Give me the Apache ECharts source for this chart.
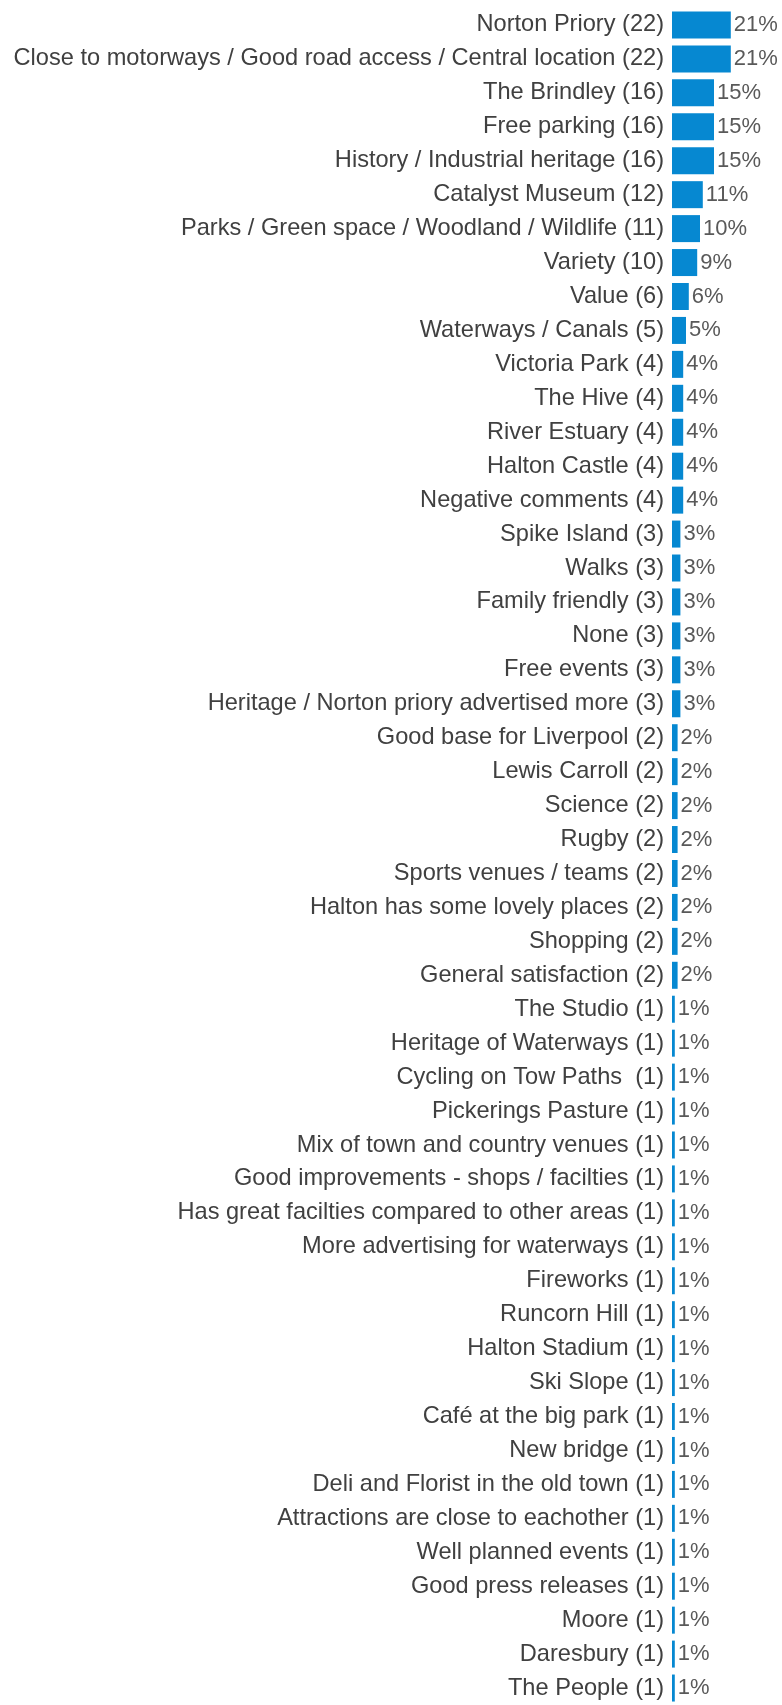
<!DOCTYPE html>
<html>
<head>
<meta charset="utf-8">
<script src="https://cdn.jsdelivr.net/npm/echarts@6/dist/echarts.min.js"></script>
<style>
  html, body { margin: 0; padding: 0; background: #fff; }
  #chart { width: 782px; height: 1705px; }
</style>
</head>
<body>
<div id="chart"></div>
<script>
// answers, top to bottom (count in brackets is part of the label)
const categories = [
  'Norton Priory (22)',
  'Close to motorways / Good road access / Central location (22)',
  'The Brindley (16)',
  'Free parking (16)',
  'History / Industrial heritage (16)',
  'Catalyst Museum (12)',
  'Parks / Green space / Woodland / Wildlife (11)',
  'Variety (10)',
  'Value (6)',
  'Waterways / Canals (5)',
  'Victoria Park (4)',
  'The Hive (4)',
  'River Estuary (4)',
  'Halton Castle (4)',
  'Negative comments (4)',
  'Spike Island (3)',
  'Walks (3)',
  'Family friendly (3)',
  'None (3)',
  'Free events (3)',
  'Heritage / Norton priory advertised more (3)',
  'Good base for Liverpool (2)',
  'Lewis Carroll (2)',
  'Science (2)',
  'Rugby (2)',
  'Sports venues / teams (2)',
  'Halton has some lovely places (2)',
  'Shopping (2)',
  'General satisfaction (2)',
  'The Studio (1)',
  'Heritage of Waterways (1)',
  'Cycling on Tow Paths  (1)',
  'Pickerings Pasture (1)',
  'Mix of town and country venues (1)',
  'Good improvements - shops / facilties (1)',
  'Has great facilties compared to other areas (1)',
  'More advertising for waterways (1)',
  'Fireworks (1)',
  'Runcorn Hill (1)',
  'Halton Stadium (1)',
  'Ski Slope (1)',
  'Café at the big park (1)',
  'New bridge (1)',
  'Deli and Florist in the old town (1)',
  'Attractions are close to eachother (1)',
  'Well planned events (1)',
  'Good press releases (1)',
  'Moore (1)',
  'Daresbury (1)',
  'The People (1)'
]

// percent of respondents
const percents = [
  21, 21, 15, 15, 15, 11, 10, 9, 6, 5,
  4, 4, 4, 4, 4,
  3, 3, 3, 3, 3, 3,
  2, 2, 2, 2, 2, 2, 2, 2,
  1, 1, 1, 1, 1, 1, 1, 1, 1, 1,
  1, 1, 1, 1, 1, 1, 1, 1, 1, 1, 1
]

const font = "'Liberation Sans', Arial, sans-serif"

const option = {
  animation: false,
  backgroundColor: '#fff',
  grid: {
    left: 672,
    right: 26,
    top: 8,
    height: 1703,
    containLabel: false
  },
  xAxis: {
    type: 'value',
    min: 0,
    max: 30,
    show: false
  },
  yAxis: {
    type: 'category',
    data: categories,
    inverse: true,
    axisLine: { show: false },
    axisTick: { show: false },
    splitLine: { show: false },
    axisLabel: {
      margin: 8,
      color: '#404040',
      fontSize: 23.6,
      fontFamily: font
    }
  },
  series: [
    {
      type: 'bar',
      data: percents,
      barWidth: 27,
      itemStyle: { color: '#0688d1' },
      label: {
        show: true,
        position: 'right',
        distance: 3,
        color: '#595959',
        fontSize: 22,
        fontFamily: font,
        formatter: p => p.value + '%'
      }
    }
  ]
}

const myChart = echarts.init(document.getElementById('chart'))
myChart.setOption(option)
</script>
</body>
</html>
